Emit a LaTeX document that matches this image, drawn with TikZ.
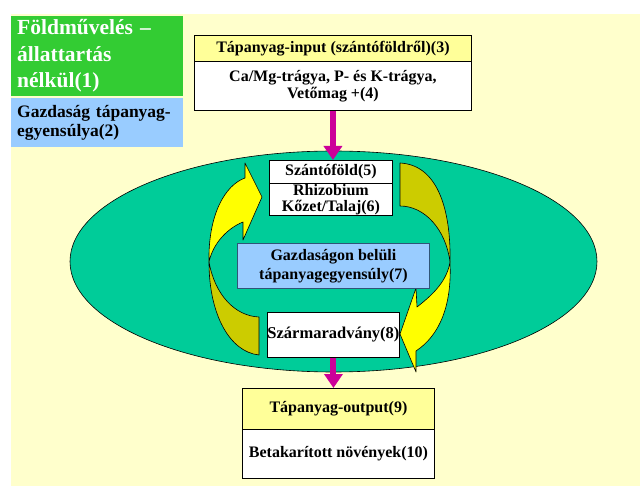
\documentclass[tikz,border=0pt]{standalone}
\usepackage{fontspec}
\setmainfont{Liberation Serif}
\usetikzlibrary{shapes.geometric,arrows.meta}
\definecolor{bgyellow}{HTML}{FFFFCC}
\definecolor{titlegreen}{HTML}{33CC33}
\definecolor{lightblue}{HTML}{99CCFF}
\definecolor{headyellow}{HTML}{FFFF99}
\definecolor{farmgreen}{HTML}{00CC99}
\definecolor{arrowyellow}{HTML}{FFFF00}
\definecolor{arrowolive}{HTML}{CCCC00}
\definecolor{flowmagenta}{HTML}{CC0099}
\definecolor{blueborder}{HTML}{2F5577}
\begin{document}
\begin{tikzpicture}[x=1pt,y=-1pt,
  cell/.style={draw=black, line width=0.9pt, anchor=north west, inner sep=0pt,
    align=center, font=\fontsize{16}{17}\selectfont\bfseries},
  sidebox/.style={anchor=north west, inner xsep=6pt, inner ysep=0pt, align=left,
    minimum width=172pt, text width=160pt},
  flow/.style={line width=6pt, draw=flowmagenta, -{Triangle[width=18pt,length=14pt]}},
  bandback/.style={fill=arrowolive, draw=black, line width=0.6pt, line join=round},
  bandfront/.style={fill=arrowyellow, draw=black, line width=0.6pt, line join=round}]
\useasboundingbox (0,0) rectangle (640,486);
% background
\fill[bgyellow] (11,14) rectangle (640,486);
% side labels
\node[sidebox, fill=titlegreen, text=white, minimum height=80pt,
  font=\fontsize{21.5}{26.5}\selectfont\bfseries] (title) at (11,16)
  {Földművelés –\\állattartás\\nélkül(1)};
\node[sidebox, fill=lightblue, minimum height=49pt,
  font=\fontsize{17.5}{19}\selectfont\bfseries] (balance) at (11,98)
  {Gazdaság tápanyag-\\egyensúlya(2)};
% input box
\node[cell, fill=headyellow, minimum width=277pt, minimum height=26pt] (inhead) at (194,35)
  {Tápanyag-input (szántóföldről)(3)};
\node[cell, fill=white, minimum width=277pt, minimum height=49pt] (inbody) at (194,61)
  {Ca/Mg-trágya, P- és K-trágya,\\Vetőmag +(4)};
% farm ellipse
\node[ellipse, draw=black, line width=0.6pt, fill=farmgreen, minimum width=527pt,
  minimum height=221pt, inner sep=0pt] (farm) at (333.5,261.5) {};
% right curved arrow
\draw[bandback] (400,163) .. controls (440,165) and (451,215) .. (450,262)
  .. controls (446,230) and (425,206) .. (400,206) -- cycle;
\draw[bandfront] (450,262) .. controls (452,305) and (440,335) .. (416,351)
  -- (416,372) -- (400,334) -- (416,288) -- (417,307)
  .. controls (435,293) and (447,280) .. (450,262) -- cycle;
% left curved arrow
\draw[bandback] (209,262) .. controls (209,315) and (230,352) .. (259,355)
  -- (259,317) .. controls (235,316) and (215,295) .. (209,262) -- cycle;
\draw[bandfront] (209,262) .. controls (208,215) and (225,185) .. (245,178)
  -- (245,163) -- (262,197) -- (243,240) -- (243,222)
  .. controls (228,228) and (213,243) .. (209,262) -- cycle;
% inner boxes
\node[cell, fill=white, minimum width=123pt, minimum height=23pt] (field) at (269,160)
  {Szántóföld(5)};
\node[cell, fill=white, minimum width=123pt, minimum height=32pt,
  font=\fontsize{16}{16}\selectfont\bfseries] (soil) at (269,183)
  {Rhizobium\\Kőzet/Talaj(6)};
\node[cell, draw=blueborder, fill=lightblue, minimum width=192pt, minimum height=45pt,
  font=\fontsize{16}{19}\selectfont\bfseries] (internal) at (237,243)
  {Gazdaságon belüli\\tápanyagegyensúly(7)};
\node[cell, fill=white, minimum width=132pt, minimum height=45pt,
  font=\fontsize{16.5}{18}\selectfont\bfseries] (residue) at (267,312)
  {Szármaradvány(8)};
% output box
\node[cell, fill=headyellow, minimum width=192pt, minimum height=41pt] (outhead) at (242,388)
  {Tápanyag-output(9)};
\node[cell, fill=white, minimum width=192pt, minimum height=49pt] (outbody) at (242,429)
  {Betakarított növények(10)};
% flows
\draw[flow] (inbody.south) -- (inbody.south |- field.north);
\draw[flow] (residue.south) -- (residue.south |- outhead.north);
\end{tikzpicture}
\end{document}
